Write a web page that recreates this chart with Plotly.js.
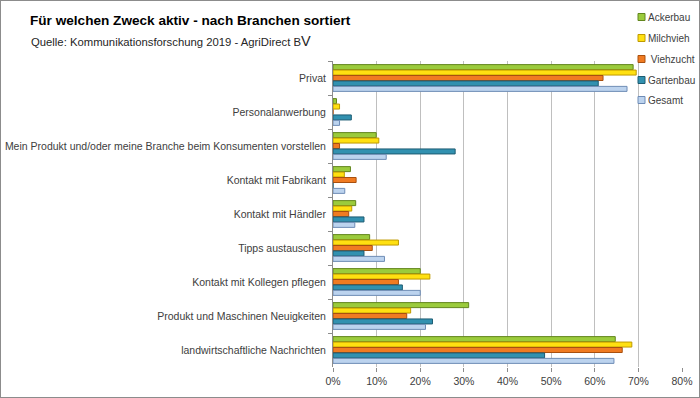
<!DOCTYPE html>
<html><head><meta charset="utf-8">
<script src="https://cdn.plot.ly/plotly-3.0.1.min.js"></script>
<style>
html,body{margin:0;padding:0;background:#fff;}
#frame{box-sizing:border-box;width:700px;height:398px;border:1px solid #8c8c8c;}
#chart{width:698px;height:396px;}
</style></head>
<body><div id="frame"><div id="chart"></div></div>
<script>
const categories = ["Privat","Personalanwerbung","Mein Produkt und/oder meine Branche beim Konsumenten vorstellen","Kontakt mit Fabrikant","Kontakt mit Händler","Tipps austauschen","Kontakt mit Kollegen pflegen","Produkt und Maschinen Neuigkeiten","landwirtschaftliche Nachrichten"];
const seriesNames = ["Ackerbau","Milchvieh","Viehzucht","Gartenbau","Gesamt"];
const ackerbau  = [68.8, 0.8,  9.9, 4.0, 5.2,  8.4, 20.0, 31.1, 64.7];
const milchvieh = [69.5, 1.5, 10.5, 2.6, 4.3, 15.0, 22.2, 17.8, 68.5];
const viehzucht = [61.9, 0.0,  1.5, 5.3, 3.6,  9.0, 15.0, 16.9, 66.3];
const gartenbau = [60.8, 4.2, 28.0, 0.0, 7.1,  7.1, 15.9, 22.8, 48.5];
const gesamt    = [67.4, 1.5, 12.2, 2.7, 5.0, 11.8, 20.0, 21.2, 64.4];
const xTickVals = [0,10,20,30,40,50,60,70,80];
const xTickText = ["0%","10%","20%","30%","40%","50%","60%","70%","80%"];

const seriesValues = [ackerbau, milchvieh, viehzucht, gartenbau, gesamt];
const fills = ["#9BCB3C","#FFE011","#F07B22","#3291B0","#BCD3EE"];
const lines = ["#62861E","#BF9A00","#A9500F","#1D5C72","#6F8CB6"];

const W = 698, H = 396, L = 332, R = 17, T = 60, B = 30;
const PW = W - L - R, PH = H - T - B;
const px = x => (x - 1 - L) / PW;          // image px -> paper x
const py = y => (T + PH - (y - 1)) / PH;    // image px -> paper y

const FONT = "Liberation Sans, Arial, sans-serif";

const traces = seriesNames.map((n, i) => ({
  type: "bar", orientation: "h", name: n,
  y: categories, x: seriesValues[i],
  marker: {color: fills[i], line: {color: lines[i], width: 1}},
  showlegend: false, hoverinfo: "x+name"
}));

const shapes = [{
  type: "rect", xref: "paper", yref: "paper", layer: "between",
  x0: px(634), x1: px(700), y0: py(110), y1: py(0),
  fillcolor: "#ffffff", line: {width: 0}
}];
const annotations = [{
  xref: "paper", yref: "paper", x: px(29), y: py(41), xanchor: "left", yanchor: "middle",
  showarrow: false, text: "Quelle: Kommunikationsforschung 2019 - AgriDirect B<span style=\"font-size:14.5px\">V</span>",
  font: {family: FONT, size: 11.3, color: "#262626"}
}];
const legendY = [17, 38, 59, 80, 100];
seriesNames.forEach((n, i) => {
  shapes.push({
    type: "rect", xref: "paper", yref: "paper", layer: "above",
    x0: px(638), x1: px(645), y0: py(legendY[i] + 3.5), y1: py(legendY[i] - 3.5),
    fillcolor: fills[i], line: {color: lines[i], width: 1}
  });
  annotations.push({
    xref: "paper", yref: "paper", x: px(646), y: py(legendY[i]), xanchor: "left", yanchor: "middle",
    showarrow: false, text: (n === "Viehzucht" ? " " : "") + n,
    font: {family: FONT, size: 10, color: "#404040"}
  });
});

const layout = {
  width: W, height: H,
  margin: {l: L, r: R, t: T, b: B, pad: 0},
  paper_bgcolor: "#ffffff", plot_bgcolor: "#ffffff",
  font: {family: FONT, size: 11, color: "#404040"},
  title: {text: "<b>Für welchen Zweck aktiv - nach Branchen sortiert</b>",
    x: 29 / W, xref: "container", xanchor: "left",
    y: 1 - 19 / H, yref: "container", yanchor: "middle",
    font: {family: FONT, size: 13.6, color: "#000000"}},
  barmode: "group", bargap: 0.2, bargroupgap: 0.08,
  xaxis: {range: [0, 80], tickvals: xTickVals, ticktext: xTickText,
    showgrid: true, gridcolor: "#BFBFBF", gridwidth: 1, zeroline: false,
    showline: false, ticks: "outside", ticklen: 4, tickcolor: "#8c8c8c",
    tickfont: {family: FONT, size: 10.5, color: "#404040"}, fixedrange: true},
  yaxis: {type: "category", autorange: "reversed", showgrid: false, zeroline: false,
    showline: true, linecolor: "#8c8c8c", linewidth: 1,
    ticks: "outside", ticklen: 4, tickcolor: "#8c8c8c", tickson: "boundaries",
    ticklabelstandoff: 4,
    tickfont: {family: FONT, size: 10.5, color: "#404040"}, fixedrange: true},
  shapes: shapes, annotations: annotations, showlegend: false
};

Plotly.newPlot("chart", traces, layout, {displayModeBar: false, staticPlot: true});
</script></body></html>
